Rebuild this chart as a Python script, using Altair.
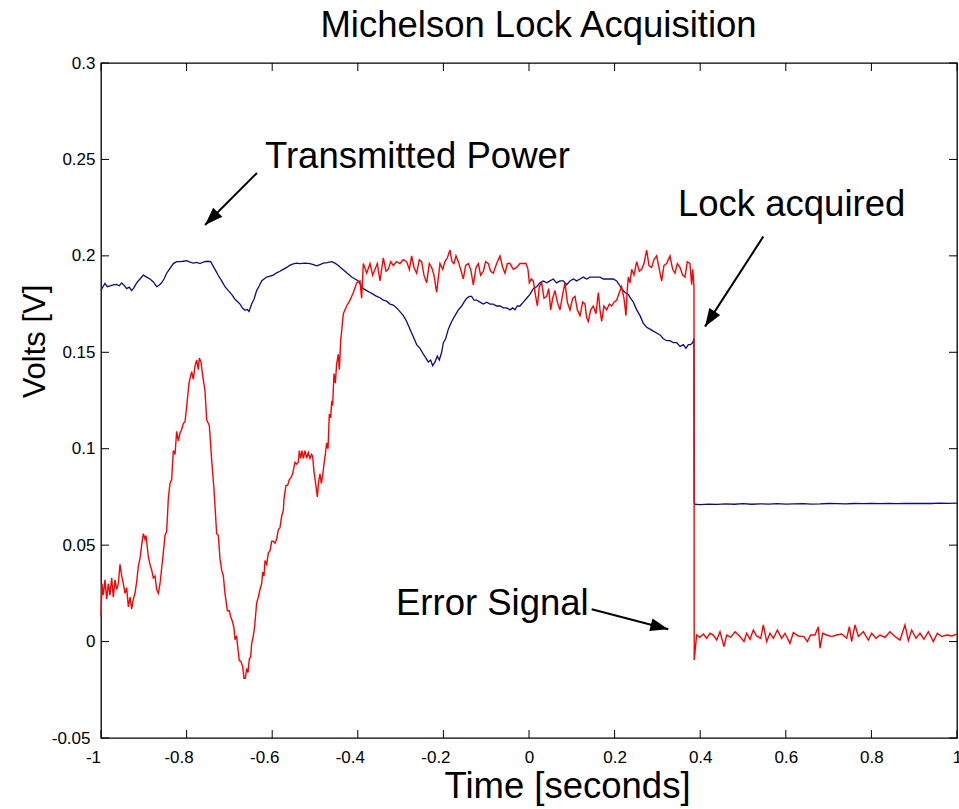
import altair as alt
import pandas as pd

# ---------------- data ----------------
# Error signal (red): acquisition part
red_t_a = [-1.0000, -0.9977, -0.9946, -0.9907, -0.9868, -0.9829, -0.9790, -0.9751, -0.9712, -0.9673,
           -0.9634, -0.9595, -0.9556, -0.9517, -0.9478, -0.9439, -0.9400, -0.9361, -0.9322, -0.9283,
           -0.9245, -0.9206, -0.9167, -0.9128, -0.9089, -0.9050, -0.9011, -0.8972, -0.8949, -0.8894,
           -0.8855, -0.8816, -0.8777, -0.8738, -0.8699, -0.8660, -0.8621, -0.8583, -0.8544, -0.8505,
           -0.8466, -0.8427, -0.8388, -0.8349, -0.8310, -0.8271, -0.8232, -0.8193, -0.8154, -0.8115,
           -0.8076, -0.8037, -0.7998, -0.7944, -0.7882, -0.7843, -0.7804, -0.7765, -0.7726, -0.7703,
           -0.7664, -0.7625, -0.7570, -0.7531, -0.7469, -0.7414, -0.7360, -0.7298, -0.7259, -0.7220,
           -0.7181, -0.7142, -0.7103, -0.7048, -0.7002, -0.6971, -0.6924, -0.6893, -0.6869, -0.6830,
           -0.6815, -0.6768, -0.6737, -0.6690, -0.6659, -0.6628, -0.6597, -0.6565, -0.6534, -0.6503,
           -0.6480, -0.6441, -0.6410, -0.6363, -0.6324, -0.6285, -0.6246, -0.6223, -0.6192, -0.6168,
           -0.6129, -0.6090, -0.6051, -0.6013, -0.5974, -0.5935, -0.5896, -0.5857, -0.5818, -0.5779,
           -0.5740, -0.5724, -0.5678, -0.5639, -0.5600, -0.5561, -0.5522, -0.5467, -0.5428, -0.5389,
           -0.5366, -0.5335, -0.5304, -0.5273, -0.5234, -0.5195, -0.5156, -0.5117, -0.5078, -0.5055,
           -0.5023, -0.4992, -0.4961, -0.4946, -0.4915, -0.4883, -0.4852, -0.4821, -0.4790, -0.4759,
           -0.4728, -0.4696, -0.4665, -0.4634, -0.4611, -0.4587, -0.4556, -0.4525, -0.4494, -0.4455,
           -0.4432, -0.4400]
red_v_a = [0.013, 0.030, 0.024, 0.032, 0.022, 0.030, 0.024, 0.033, 0.023, 0.032,
           0.027, 0.030, 0.040, 0.034, 0.030, 0.025, 0.028, 0.018, 0.023, 0.017,
           0.022, 0.025, 0.031, 0.039, 0.043, 0.050, 0.056, 0.053, 0.055, 0.044,
           0.040, 0.037, 0.033, 0.034, 0.027, 0.025, 0.030, 0.038, 0.046, 0.055,
           0.057, 0.074, 0.082, 0.084, 0.099, 0.097, 0.109, 0.104, 0.108, 0.110,
           0.113, 0.114, 0.122, 0.134, 0.140, 0.136, 0.143, 0.146, 0.141, 0.147,
           0.145, 0.138, 0.130, 0.115, 0.112, 0.094, 0.079, 0.056, 0.055, 0.043,
           0.037, 0.034, 0.025, 0.016, 0.016, 0.013, 0.010, 0.007, 0.001, 0.003,
           -0.001, -0.010, -0.010, -0.013, -0.019, -0.019, -0.014, -0.016, -0.009, -0.008,
           -0.001, 0.003, 0.008, 0.020, 0.023, 0.027, 0.030, 0.036, 0.034, 0.042,
           0.040, 0.046, 0.047, 0.052, 0.052, 0.051, 0.053, 0.058, 0.059, 0.065,
           0.068, 0.074, 0.081, 0.081, 0.084, 0.085, 0.087, 0.093, 0.092, 0.093,
           0.099, 0.095, 0.099, 0.095, 0.099, 0.095, 0.098, 0.095, 0.097, 0.096,
           0.088, 0.083, 0.078, 0.075, 0.083, 0.087, 0.082, 0.086, 0.092, 0.097,
           0.103, 0.100, 0.118, 0.116, 0.124, 0.123, 0.139, 0.134, 0.144, 0.149,
           0.141, 0.156]

# Error signal (red): upper plateau before lock
red_t_b = [-0.4338, -0.4260, -0.4182, -0.4104, -0.4027, -0.3949, -0.3910, -0.3871, -0.3793, -0.3715,
           -0.3653, -0.3598, -0.3544, -0.3482, -0.3404, -0.3342, -0.3287, -0.3233, -0.3170, -0.3092,
           -0.3015, -0.2937, -0.2859, -0.2796, -0.2742, -0.2687, -0.2625, -0.2563, -0.2508, -0.2454,
           -0.2391, -0.2329, -0.2274, -0.2220, -0.2158, -0.2080, -0.2017, -0.1963, -0.1908, -0.1846,
           -0.1799, -0.1752, -0.1706, -0.1651, -0.1597, -0.1535, -0.1480, -0.1418, -0.1363, -0.1301,
           -0.1238, -0.1184, -0.1130, -0.1067, -0.1013, -0.0950, -0.0896, -0.0834, -0.0756, -0.0678,
           -0.0615, -0.0561, -0.0506, -0.0444, -0.0366, -0.0288, -0.0211, -0.0133, -0.0070, -0.0024,
           0.0008, 0.0054, 0.0101, 0.0148, 0.0195, 0.0241, 0.0296, 0.0350, 0.0413, 0.0460,
           0.0506, 0.0553, 0.0608, 0.0662, 0.0724, 0.0787, 0.0841, 0.0896, 0.0958, 0.1020,
           0.1074, 0.1129, 0.1191, 0.1254, 0.1308, 0.1347, 0.1386, 0.1441, 0.1503, 0.1565,
           0.1620, 0.1659, 0.1698, 0.1752, 0.1815, 0.1877, 0.1931, 0.1986, 0.2048, 0.2110,
           0.2165, 0.2219, 0.2266, 0.2297, 0.2321, 0.2360, 0.2399, 0.2453, 0.2516, 0.2578,
           0.2632, 0.2687, 0.2749, 0.2804, 0.2866, 0.2920, 0.2983, 0.3045, 0.3100, 0.3154,
           0.3216, 0.3294, 0.3356, 0.3411, 0.3465, 0.3528, 0.3590, 0.3644, 0.3699, 0.3761,
           0.3800, 0.3824, 0.3855]
red_v_b = [0.170, 0.174, 0.177, 0.181, 0.186, 0.187, 0.178, 0.196, 0.191, 0.196,
           0.190, 0.193, 0.196, 0.187, 0.199, 0.192, 0.193, 0.197, 0.195, 0.197,
           0.196, 0.198, 0.197, 0.193, 0.200, 0.194, 0.191, 0.198, 0.197, 0.190,
           0.186, 0.196, 0.194, 0.190, 0.181, 0.196, 0.193, 0.197, 0.199, 0.203,
           0.197, 0.196, 0.200, 0.197, 0.193, 0.188, 0.195, 0.196, 0.193, 0.185,
           0.194, 0.196, 0.190, 0.192, 0.197, 0.196, 0.192, 0.191, 0.196, 0.200,
           0.194, 0.191, 0.196, 0.196, 0.193, 0.194, 0.196, 0.196, 0.196, 0.193,
           0.186, 0.188, 0.187, 0.180, 0.174, 0.184, 0.186, 0.178, 0.179, 0.183,
           0.172, 0.178, 0.182, 0.176, 0.172, 0.180, 0.186, 0.176, 0.172, 0.178,
           0.179, 0.172, 0.169, 0.176, 0.175, 0.168, 0.166, 0.172, 0.174, 0.170,
           0.181, 0.172, 0.166, 0.174, 0.172, 0.175, 0.174, 0.176, 0.177, 0.181,
           0.184, 0.178, 0.169, 0.183, 0.189, 0.186, 0.193, 0.190, 0.197, 0.192,
           0.193, 0.196, 0.203, 0.195, 0.194, 0.198, 0.200, 0.193, 0.187, 0.195,
           0.196, 0.200, 0.193, 0.191, 0.196, 0.194, 0.190, 0.189, 0.197, 0.196,
           0.185, 0.193, 0.184]

# Error signal (red): after lock
red_t_c = [0.3860, 0.3917, 0.3995, 0.4073, 0.4151, 0.4229, 0.4307, 0.4385, 0.4463, 0.4556,
           0.4618, 0.4712, 0.4813, 0.4930, 0.5023, 0.5086, 0.5164, 0.5241, 0.5319, 0.5413,
           0.5475, 0.5553, 0.5631, 0.5709, 0.5802, 0.5903, 0.5981, 0.6098, 0.6176, 0.6293,
           0.6425, 0.6503, 0.6581, 0.6682, 0.6760, 0.6799, 0.6861, 0.6955, 0.7072, 0.7189,
           0.7305, 0.7422, 0.7485, 0.7539, 0.7617, 0.7695, 0.7812, 0.7928, 0.8006, 0.8108,
           0.8201, 0.8318, 0.8435, 0.8551, 0.8668, 0.8785, 0.8863, 0.8941, 0.9042, 0.9135,
           0.9229, 0.9330, 0.9447, 0.9540, 0.9642, 0.9759, 0.9876, 1.0000]
red_v_c = [-0.0095, 0.0034, 0.0022, 0.0039, 0.0017, 0.0043, 0.0034, 0.0008, 0.0051, -0.0026,
           0.0034, 0.0022, 0.0051, 0.0026, 0.0000, 0.0043, 0.0012, 0.0060, 0.0029, 0.0017,
           0.0086, 0.0000, 0.0043, 0.0017, 0.0060, 0.0017, 0.0043, -0.0009, 0.0046, 0.0029,
           0.0026, 0.0000, 0.0034, 0.0034, 0.0077, -0.0035, 0.0043, 0.0034, 0.0026, 0.0034,
           0.0039, 0.0017, 0.0077, 0.0000, 0.0086, 0.0026, 0.0051, 0.0008, 0.0043, 0.0017,
           0.0034, 0.0022, 0.0051, 0.0026, 0.0008, 0.0086, 0.0005, 0.0060, 0.0017, 0.0043,
           0.0012, 0.0051, 0.0000, 0.0043, 0.0026, 0.0034, 0.0029, 0.0039]

# Transmitted power (blue)
blue_t_a = [-1.0000, -0.9907, -0.9852, -0.9790, -0.9712, -0.9634, -0.9572, -0.9517, -0.9463, -0.9400,
            -0.9338, -0.9283, -0.9229, -0.9167, -0.9089, -0.9011, -0.8933, -0.8855, -0.8777, -0.8699,
            -0.8645, -0.8583, -0.8528, -0.8466, -0.8388, -0.8310, -0.8232, -0.8154, -0.8076, -0.7998,
            -0.7920, -0.7843, -0.7765, -0.7687, -0.7609, -0.7531, -0.7437, -0.7337, -0.7259, -0.7181,
            -0.7103, -0.7025, -0.6947, -0.6869, -0.6807, -0.6752, -0.6690, -0.6636, -0.6581, -0.6542,
            -0.6480, -0.6425, -0.6363, -0.6301, -0.6246, -0.6192, -0.6129, -0.6051, -0.5974, -0.5896,
            -0.5818, -0.5740, -0.5662, -0.5584, -0.5507, -0.5428, -0.5351, -0.5234, -0.5117, -0.5039,
            -0.4961, -0.4883, -0.4806, -0.4712, -0.4611, -0.4533, -0.4455, -0.4377, -0.4299, -0.4221,
            -0.4143, -0.4065, -0.3988, -0.3933, -0.3871, -0.3793, -0.3715, -0.3637, -0.3559, -0.3481,
            -0.3403, -0.3326, -0.3248, -0.3170, -0.3092]
blue_v_a = [0.1823, 0.1857, 0.1840, 0.1844, 0.1850, 0.1852, 0.1845, 0.1860, 0.1848, 0.1830,
            0.1838, 0.1820, 0.1835, 0.1860, 0.1880, 0.1900, 0.1890, 0.1880, 0.1865, 0.1840,
            0.1848, 0.1860, 0.1880, 0.1910, 0.1935, 0.1960, 0.1970, 0.1970, 0.1972, 0.1975,
            0.1968, 0.1962, 0.1966, 0.1960, 0.1968, 0.1972, 0.1970, 0.1930, 0.1898, 0.1870,
            0.1840, 0.1820, 0.1800, 0.1775, 0.1762, 0.1750, 0.1728, 0.1718, 0.1722, 0.1712,
            0.1750, 0.1775, 0.1820, 0.1845, 0.1870, 0.1880, 0.1890, 0.1895, 0.1900, 0.1912,
            0.1920, 0.1930, 0.1940, 0.1952, 0.1958, 0.1962, 0.1960, 0.1962, 0.1960, 0.1955,
            0.1948, 0.1955, 0.1962, 0.1965, 0.1970, 0.1962, 0.1950, 0.1935, 0.1920, 0.1905,
            0.1890, 0.1880, 0.1870, 0.1850, 0.1830, 0.1820, 0.1810, 0.1800, 0.1790, 0.1783,
            0.1770, 0.1765, 0.1750, 0.1745, 0.1730]

blue_t_b = [-0.2936, -0.2858, -0.2781, -0.2703, -0.2625, -0.2547, -0.2469, -0.2407, -0.2352, -0.2298,
            -0.2251, -0.2196, -0.2142, -0.2095, -0.2041, -0.2001, -0.1947, -0.1885, -0.1807, -0.1729,
            -0.1651, -0.1573, -0.1519, -0.1457, -0.1394, -0.1340, -0.1285, -0.1223, -0.1145, -0.1067,
            -0.0989, -0.0911, -0.0834, -0.0756, -0.0678, -0.0600, -0.0522, -0.0444, -0.0382, -0.0327,
            -0.0273, -0.0211, -0.0133, -0.0055, 0.0023, 0.0101, 0.0179, 0.0257, 0.0335, 0.0413,
            0.0490, 0.0568, 0.0646, 0.0724, 0.0802, 0.0880, 0.0958, 0.1036, 0.1114, 0.1191,
            0.1269, 0.1347, 0.1425, 0.1503, 0.1581, 0.1659, 0.1737, 0.1815, 0.1893, 0.1970,
            0.2048, 0.2110, 0.2165, 0.2243, 0.2321, 0.2375, 0.2438, 0.2516, 0.2594, 0.2671,
            0.2749, 0.2827, 0.2905, 0.2983, 0.3061, 0.3139, 0.3216, 0.3294, 0.3372, 0.3450,
            0.3528, 0.3606, 0.3668, 0.3723, 0.3777, 0.3824, 0.3855]
blue_v_b = [0.169, 0.166, 0.162, 0.158, 0.154, 0.152, 0.149, 0.147, 0.145, 0.146,
            0.143, 0.145, 0.148, 0.146, 0.150, 0.155, 0.157, 0.162, 0.166, 0.169,
            0.172, 0.174, 0.176, 0.178, 0.179, 0.179, 0.177, 0.177, 0.176, 0.175,
            0.176, 0.175, 0.175, 0.174, 0.174, 0.173, 0.173, 0.172, 0.173, 0.172,
            0.174, 0.174, 0.176, 0.178, 0.180, 0.183, 0.184, 0.186, 0.187, 0.186,
            0.187, 0.188, 0.186, 0.187, 0.187, 0.185, 0.187, 0.188, 0.187, 0.188,
            0.189, 0.188, 0.189, 0.189, 0.189, 0.189, 0.188, 0.188, 0.188, 0.188,
            0.187, 0.185, 0.183, 0.181, 0.180, 0.178, 0.176, 0.172, 0.169, 0.165,
            0.163, 0.162, 0.161, 0.160, 0.159, 0.157, 0.156, 0.156, 0.155, 0.155,
            0.153, 0.154, 0.152, 0.154, 0.154, 0.155, 0.157]

blue_t_c = [0.3862, 0.388, 0.40, 0.42, 0.44, 0.46, 0.48, 0.50, 0.52, 0.54, 0.56, 0.58, 0.60,
            0.62, 0.64, 0.66, 0.68, 0.70, 0.72, 0.74, 0.76, 0.78, 0.80, 0.82, 0.84, 0.86,
            0.88, 0.90, 0.92, 0.94, 0.96, 0.98, 1.00]
blue_v_c = [0.0720, 0.0712, 0.0710, 0.0713, 0.0711, 0.0714, 0.0712, 0.0715, 0.0712, 0.0714,
            0.0713, 0.0715, 0.0713, 0.0714, 0.0715, 0.0713, 0.0714, 0.0716, 0.0715, 0.0714,
            0.0716, 0.0715, 0.0716, 0.0715, 0.0716, 0.0715, 0.0717, 0.0716, 0.0717, 0.0716,
            0.0718, 0.0717, 0.0718]

x_ticks = [-1, -0.8, -0.6, -0.4, -0.2, 0, 0.2, 0.4, 0.6, 0.8, 1]
y_ticks = [-0.05, 0, 0.05, 0.1, 0.15, 0.2, 0.25, 0.3]

chart_title = "Michelson Lock Acquisition"

# annotations (data coordinates)
note_text = ["Transmitted Power", "Lock acquired", "Error Signal"]
note_t = [-0.6168, 0.3481, -0.3107]
note_v = [0.2456, 0.2207, 0.0138]
arrow_t0 = [-0.6355, 0.5474, 0.1465]
arrow_v0 = [0.2430, 0.2100, 0.01675]
arrow_t1 = [-0.7570, 0.4112, 0.3255]
arrow_v1 = [0.2160, 0.1633, 0.00638]
arrow_angle = [225.0, 212.9, 104.6]

# ---------------- chart ----------------
W, H = 856, 675
FONT = "Liberation Sans"
BIG = 36.5
RED = "#ff0000"
BLUE = "#0c0c82"

red_t = red_t_a + red_t_b + red_t_c
red_v = red_v_a + red_v_b + red_v_c
blue_t = blue_t_a + blue_t_b + blue_t_c
blue_v = blue_v_a + blue_v_b + blue_v_c
assert len(red_t) == len(red_v), (len(red_t), len(red_v))
assert len(blue_t) == len(blue_v), (len(blue_t), len(blue_v))

red_df = pd.DataFrame({"t": red_t, "v": red_v, "i": range(len(red_t))})
blue_df = pd.DataFrame({"t": blue_t, "v": blue_v, "i": range(len(blue_t))})
xt_df = pd.DataFrame({"t": x_ticks})
yt_df = pd.DataFrame({"v": y_ticks})
note_df = pd.DataFrame({"t": note_t, "v": note_v, "label": note_text})
arrow_df = pd.DataFrame({"t": arrow_t0, "v": arrow_v0, "t2": arrow_t1, "v2": arrow_v1})
head_df = pd.DataFrame({"t": arrow_t1, "v": arrow_v1, "ang": arrow_angle})
title_df = pd.DataFrame({"label": [chart_title]})

X = alt.X(
    "t:Q",
    scale=alt.Scale(domain=[-1, 1], nice=False, zero=False),
    axis=alt.Axis(
        values=x_ticks, labelExpr="'' + datum.value", ticks=False, domain=False, grid=False,
        labelFont=FONT, labelFontSize=17, labelColor="black", labelPadding=11, labelFlush=False,
        labelOffset={"condition": {"test": "datum.value < 0", "value": -8}, "value": 0},
        title="Time [seconds]", titleFont=FONT, titleFontSize=BIG, titleFontWeight="normal",
        titleColor="black", titleX=466, titleY=59, titleBaseline="alphabetic",
    ),
)
Y = alt.Y(
    "v:Q",
    scale=alt.Scale(domain=[-0.05, 0.3], nice=False, zero=False),
    axis=alt.Axis(
        values=y_ticks, labelExpr="'' + datum.value", ticks=False, domain=False, grid=False,
        labelFont=FONT, labelFontSize=17, labelColor="black",
        labelPadding={"condition": {"test": "datum.value < 0", "value": 11}, "value": 6},
        title="Volts [V]", titleFont=FONT, titleFontSize=31, titleFontWeight="normal",
        titleColor="black", titleX=-57, titleY=278, titleAngle=-90, titleBaseline="alphabetic",
    ),
)

blue_line = alt.Chart(blue_df).mark_line(color=BLUE, strokeWidth=1.3).encode(x=X, y=Y, order="i:Q")
red_line = alt.Chart(red_df).mark_line(color=RED, strokeWidth=1.4).encode(x=X, y=Y, order="i:Q")

TL = 8
tick_style = dict(color="black", strokeWidth=1)
ticks_bottom = alt.Chart(xt_df).mark_rule(**tick_style).encode(x=X, y=alt.value(H - TL), y2=alt.value(H))
ticks_top = alt.Chart(xt_df).mark_rule(**tick_style).encode(x=X, y=alt.value(0), y2=alt.value(TL))
ticks_left = alt.Chart(yt_df).mark_rule(**tick_style).encode(y=Y, x=alt.value(0), x2=alt.value(TL))
ticks_right = alt.Chart(yt_df).mark_rule(**tick_style).encode(y=Y, x=alt.value(W - TL), x2=alt.value(W))

shafts = alt.Chart(arrow_df).mark_rule(color="black", strokeWidth=2).encode(
    x=X, y=Y, x2="t2:Q", y2="v2:Q")
heads = alt.Chart(head_df).mark_point(
    shape="M0,0L-0.36,1L0.36,1Z", filled=True, size=1296, color="black", opacity=1, strokeWidth=0
).encode(x=X, y=Y, angle=alt.Angle("ang:Q", scale=None))
notes = alt.Chart(note_df).mark_text(
    align="left", baseline="alphabetic", font=FONT, fontSize=BIG, color="black"
).encode(x=X, y=Y, text="label:N")

title_mark = alt.Chart(title_df).mark_text(
    align="center", baseline="alphabetic", font=FONT, fontSize=BIG, color="black"
).encode(x=alt.value(437.5), y=alt.value(-26), text="label:N")

chart = alt.layer(
    blue_line, red_line, ticks_bottom, ticks_top, ticks_left, ticks_right, shafts, heads, notes,
    title_mark,
).properties(
    width=W, height=H,
    padding={"left": 101, "top": 63, "right": 2, "bottom": 71},
    autosize=alt.AutoSizeParams(type="none"),
    background="white",
).configure_view(stroke="black", strokeWidth=1.3)

chart.save("out.html", embed_options={"renderer": "svg", "actions": False})
